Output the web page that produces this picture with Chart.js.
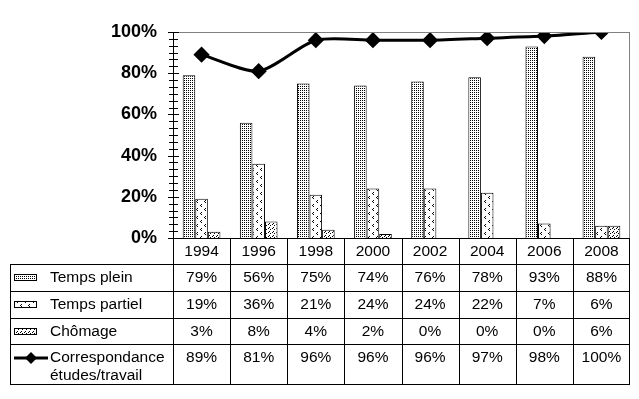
<!DOCTYPE html>
<html>
<head>
<meta charset="utf-8">
<script src="https://cdn.jsdelivr.net/npm/chart.js@4.4.1/dist/chart.umd.min.js"></script>
<style>
  html, body { margin: 0; padding: 0; background: #fff; }
</style>
</head>
<body>
<canvas id="chart" width="639" height="399"></canvas>
<script>
const years = ['1994', '1996', '1998', '2000', '2002', '2004', '2006', '2008'];
const tempsPlein = [79, 56, 75, 74, 76, 78, 93, 88];
const tempsPartiel = [19, 36, 21, 24, 24, 22, 7, 6];
const chomage = [3, 8, 4, 2, 0, 0, 0, 6];
const correspondance = [89, 81, 96, 96, 96, 97, 98, 100];
const seriesNames = ['Temps plein', 'Temps partiel', 'Chômage'];
const lineName = ['Correspondance', 'études/travail'];
const yTicks = [0, 20, 40, 60, 80, 100];

const FONT = "Arial, 'Liberation Sans', sans-serif";

// little bitmap fills, like the old Excel patterns
function makePattern(size, dots) {
    const c = document.createElement('canvas');
    c.width = c.height = size;
    const g = c.getContext('2d');
    g.fillStyle = '#fff'; g.fillRect(0, 0, size, size);
    g.fillStyle = '#000';
    dots.forEach(([x, y]) => g.fillRect(x, y, 1, 1));
    return g.createPattern(c, 'repeat');
}
const pPlein = makePattern(2, [[0, 0]]);
const pPartiel = makePattern(8, [[5, 0], [4, 1], [5, 2], [1, 4], [0, 5], [1, 6]]);
const pChomage = makePattern(4, [[0, 0], [2, 1], [1, 3]]);
const patterns = [pPlein, pPartiel, pChomage];

function line(ctx, x1, y1, x2, y2) {
    ctx.beginPath(); ctx.moveTo(x1, y1); ctx.lineTo(x2, y2); ctx.stroke();
}

const axisPlugin = {
    id: 'axisFrame',
    afterDatasetsDraw(chart) {
        const { ctx, chartArea: a, scales: { y } } = chart;
        ctx.save();
        ctx.lineWidth = 1;
        ctx.strokeStyle = '#808080';
        line(ctx, a.left, a.top + 0.5, a.right, a.top + 0.5);
        line(ctx, a.right - 0.5, a.top, a.right - 0.5, a.bottom);
        ctx.strokeStyle = '#000';
        line(ctx, a.left + 0.5, a.top, a.left + 0.5, a.bottom);
        for (let i = 0; i <= 30; i++) {
            const yy = Math.round(y.getPixelForValue(i * 100 / 30)) + 0.5;
            const w = i % 6 === 0 ? 5 : 4;
            line(ctx, a.left - w, yy, a.left + w + 1, yy);
        }
        ctx.restore();
    }
};

const tablePlugin = {
    id: 'dataTable',
    afterDraw(chart) {
        const { ctx, chartArea: a, scales: { x } } = chart;
        const b = a.bottom;
        const rows = [b, b + 26, b + 53, b + 80, b + 106, b + 146];
        const left = 10;
        const colW = (a.right - a.left) / years.length;
        ctx.save();
        ctx.strokeStyle = '#000';
        ctx.lineWidth = 1;
        line(ctx, a.left, rows[0] + 0.5, a.right, rows[0] + 0.5);
        for (let r = 1; r < rows.length; r++) line(ctx, left, rows[r] + 0.5, a.right, rows[r] + 0.5);
        for (let i = 0; i <= years.length; i++) {
            const xx = Math.round(a.left + i * colW) + (i === years.length ? -0.5 : 0.5);
            line(ctx, xx, rows[0], xx, rows[5] + 1);
        }
        line(ctx, left + 0.5, rows[1], left + 0.5, rows[5] + 1);

        ctx.fillStyle = '#000';
        ctx.font = '15.5px ' + FONT;
        ctx.textAlign = 'center';
        ctx.textBaseline = 'middle';
        years.forEach((yr, i) => ctx.fillText(yr, x.getPixelForValue(i), rows[0] + 14));
        [tempsPlein, tempsPartiel, chomage, correspondance].forEach((arr, r) => {
            arr.forEach((v, i) => ctx.fillText(v + '%', x.getPixelForValue(i), rows[r + 1] + 14));
        });

        // legend keys in the first column
        ctx.textAlign = 'left';
        seriesNames.forEach((name, r) => {
            const cy = rows[r + 1] + 13;
            ctx.fillStyle = patterns[r];
            ctx.fillRect(14, cy - 3, 23, 7);
            ctx.strokeRect(14.5, cy - 2.5, 22, 6);
            ctx.fillStyle = '#000';
            ctx.fillText(name, 50, cy + 1);
        });
        const ly = rows[4] + 14;
        ctx.lineWidth = 3;
        line(ctx, 14, ly, 48, ly);
        ctx.beginPath();
        ctx.moveTo(31, ly - 6); ctx.lineTo(37, ly); ctx.lineTo(31, ly + 6); ctx.lineTo(25, ly);
        ctx.closePath(); ctx.fill();
        ctx.fillText(lineName[0], 50, ly);
        ctx.fillText(lineName[1], 50, ly + 18);
        ctx.restore();
    }
};

const barBase = { type: 'bar', borderColor: '#000', borderWidth: 1, categoryPercentage: 0.66, barPercentage: 1, order: 1 };

new Chart(document.getElementById('chart'), {
    data: {
        labels: years,
        datasets: [
            { ...barBase, label: seriesNames[0], data: tempsPlein, backgroundColor: pPlein },
            { ...barBase, label: seriesNames[1], data: tempsPartiel, backgroundColor: pPartiel },
            { ...barBase, label: seriesNames[2], data: chomage, backgroundColor: pChomage },
            {
                type: 'line', label: lineName.join(' '), data: correspondance, order: 0,
                borderColor: '#000', borderWidth: 3, tension: 0.25,
                pointStyle: 'rectRot', pointRadius: 6, pointBackgroundColor: '#000', pointBorderColor: '#000'
            }
        ]
    },
    options: {
        responsive: false,
        animation: false,
        devicePixelRatio: 1,
        layout: { padding: { top: 32, right: 9, bottom: 161, left: 0 } },
        plugins: { legend: { display: false }, tooltip: { enabled: false } },
        scales: {
            x: {
                grid: { display: false, drawTicks: false },
                border: { display: false },
                ticks: { display: false },
                afterFit: s => { s.height = 0; }
            },
            y: {
                min: 0, max: 100,
                afterBuildTicks: axis => { axis.ticks = yTicks.map(v => ({ value: v })); },
                grid: { display: false, drawTicks: false },
                border: { display: false },
                ticks: {
                    color: '#000', padding: 16,
                    font: { family: FONT, size: 18, weight: 'bold' },
                    callback: v => v + '%'
                },
                afterFit: s => { s.width = 173; }
            }
        }
    },
    plugins: [axisPlugin, tablePlugin]
});
</script>
</body>
</html>
